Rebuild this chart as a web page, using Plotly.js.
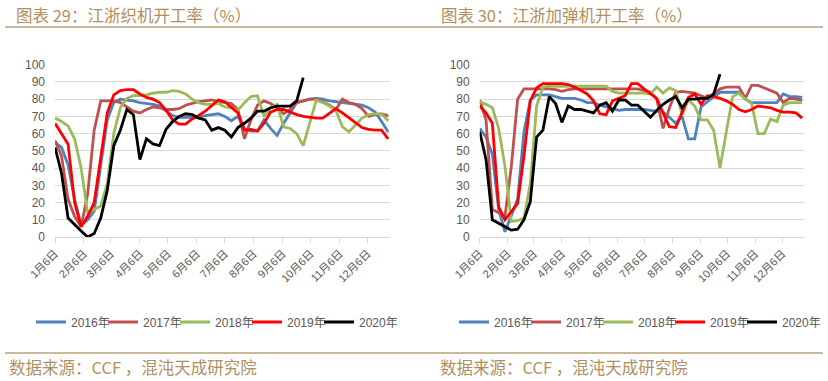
<!DOCTYPE html>
<html>
<head>
<meta charset="utf-8">
<script src="https://cdn.plot.ly/plotly-3.0.1.min.js"></script>
<style>
  html, body { margin: 0; padding: 0; background: #ffffff; }
  #chart { width: 828px; height: 381px; }
</style>
</head>
<body>
<div id="chart"></div>
<script>
// ---- categories (weekly dates mapped onto one year) ----
var weeks = [
  '2020-01-06','2020-01-13','2020-01-20','2020-01-27',
  '2020-02-03','2020-02-10','2020-02-17','2020-02-24',
  '2020-03-02','2020-03-09','2020-03-16','2020-03-23','2020-03-30',
  '2020-04-06','2020-04-13','2020-04-20','2020-04-27',
  '2020-05-04','2020-05-11','2020-05-18','2020-05-25',
  '2020-06-01','2020-06-08','2020-06-15','2020-06-22','2020-06-29',
  '2020-07-06','2020-07-13','2020-07-20','2020-07-27',
  '2020-08-03','2020-08-10','2020-08-17','2020-08-24','2020-08-31',
  '2020-09-07','2020-09-14','2020-09-21','2020-09-28',
  '2020-10-05','2020-10-12','2020-10-19','2020-10-26',
  '2020-11-02','2020-11-09','2020-11-16','2020-11-23','2020-11-30',
  '2020-12-07','2020-12-14','2020-12-21','2020-12-28'
];
var tickDates = ['2020-01-06','2020-02-06','2020-03-06','2020-04-06','2020-05-06','2020-06-06',
                 '2020-07-06','2020-08-06','2020-09-06','2020-10-06','2020-11-06','2020-12-06'];
var tickText = ['1月6日','2月6日','3月6日','4月6日','5月6日','6月6日',
                '7月6日','8月6日','9月6日','10月6日','11月6日','12月6日'];
var seriesNames = ['2016年','2017年','2018年','2019年','2020年'];

// ---- 江浙织机开工率 ----
var loom2016 = [55,52,42,22,7, 10,15,42,68,78, 80,79.5,79,78,77.5, 77,76,73,70.5,69.5,
  69.5,69.5,69.5,70.5,71, 71.5,70,67.5,70,63, 61.5,61.5,68,63,59, 66,72,78,79,80,
  80.5,80,79,78.5,78, 77.5,77,76.5,75,72.5, 67,61];
var loom2017 = [56,47,22,12,6, 25,62,79,79,79, 78,75.5,73,72,74, 75.5,75,74,74,74.5,
  76.5,77.5,78.5,79,79.5, 78.5,78,77.5,74,57, 68,76.5,79,77.5,75, 71.5,74,78,79,80,
  80,78.5,76.5,74,80, 78,77,74.5,70,71, 71.5,70.5];
var loom2018 = [69,67,64.5,57,40, 14,16,18,31,60, 75,80.5,82,82,82.5, 83.5,84,84,85,84.5,
  83,80,78,77,77, 77.5,75.5,75,73.5,78, 81.5,82,70,75,77, 64,63,60,53,66,
  79.5,78,76,73.5,64, 61,65,69,71,71.5, 71.5,67.5];
var loom2019 = [66,60,54,20,6, 12,20,46,72,82.5, 85,85.5,85.5,83,81, 80,78,73.5,68,65.5,
  65.5,68.5,70.5,73,76.5, 79.5,78.5,75,72,62, 62.5,61.5,66,72.5,74, 74,72.5,71,70,69.5,
  69,69,72,74.5,72, 69,66,63.5,62.5,62, 62,57];
var loom2020 = [52,37,11,7,3.5, 0,2,11,27,53, 62,74,71,45,57, 54,53,62.5,67,70,
  71.5,71,69,68,62, 63.5,62,58,63.5,66, 69,73,73,75,76, 76,76,79,92.5];

// ---- 江浙加弹机开工率 ----
var tex2016 = [63,58,48,16,3, 12,22,61,79.5,82.5, 82.5,82.5,81.5,80.5,80.5, 80.5,79.5,78,78,76.5,
  75.5,74.5,73.5,74,74, 74,74,73.5,73,72.5, 69.5,66,70,57,57, 75.5,78.5,81.5,84,84,
  84,84,80,78,78, 78,78,78,83,81.5, 81.5,81];
var tex2017 = [79.5,68,16,14,12, 41,80,86,86,86, 86,86,85.5,84.5,85.5, 86,86,86,86,86,
  86,86,86,86,86, 86,85,84,80,63, 75,84,84.5,84,83.5, 82,80.5,83,86,87,
  87,87,80.5,88,88, 86.5,85,83.5,78,80.5, 80,79.5];
var tex2018 = [78.5,77,75,63,41, 9,9.5,11,31,76, 87,87.5,87.5,87.5,87.5, 87.5,87.5,87.5,87.5,87.5,
  87.5,84.5,83.5,83.5,83.5, 83.5,83.5,83,87,83.5, 86.5,85,71,79.5,76, 68,68,62,40,61,
  81.5,83.5,80,77.5,60, 60,68.5,67,76.5,78, 78,78];
var tex2019 = [76,72,66,17.5,10, 15,19.5,47,79,86.5, 89,89,89,89,88.5, 87,85,83,79,71.5,
  71,79,80.5,82,89, 89,86,83.5,80.5,72, 64,63.5,72,81,83, 77,82,81.5,80.5,79,
  77,74,72.7,74,76, 75.5,75,73.5,72.5,72.5, 72,69];
var tex2020 = [61,45,10,8,6, 4,4.5,10,20.5,58, 62,81.5,77.5,66.5,76, 74,74,73,72,76.5,
  78,73,79.5,79.5,76.5, 76.5,73,69.5,73.5,77, 79.5,81.5,75,80,80, 80.5,80.5,83,94.5];

var colors = ['#4f81bd','#c0504d','#9bbb59','#ff0000','#000000'];

// ---- layout helpers ----
var W = 828, H = 381;
function px(x){ return x / W; }
function py(y){ return 1 - y / H; }

var leftSets = [loom2016, loom2017, loom2018, loom2019, loom2020];
var rightSets = [tex2016, tex2017, tex2018, tex2019, tex2020];
var traces = [];
function addTraces(sets, xa, ya, lg){
  sets.forEach(function(vals, k){
    var t = {x: weeks, y: vals, type: 'scatter', mode: 'lines', name: seriesNames[k],
      line: {color: colors[k], width: 2.8}, xaxis: xa, yaxis: ya, legend: lg};
    if (k === sets.length - 1) t.legendwidth = 38;   // last entry: full text width
    traces.push(t);
  });
}
addTraces(leftSets, 'x', 'y', 'legend');
addTraces(rightSets, 'x2', 'y2', 'legend2');

var tickFont = {family: 'Liberation Sans, Noto Sans CJK SC, sans-serif', size: 12, color: '#595959'};
var xRange = ['2020-01-06', '2020-12-30'];
function xAxis(d0, d1, anchor){
  return {domain: [px(d0), px(d1)], anchor: anchor, type: 'date', range: xRange,
    tickmode: 'array', tickvals: tickDates, ticktext: tickText, tickangle: -45,
    tickfont: {family: 'Liberation Sans, Noto Sans CJK SC, sans-serif', size: 11, color: '#595959'},
    showgrid: false, zeroline: false, showline: true, linecolor: '#d9d9d9', linewidth: 1,
    ticks: 'outside', ticklen: 5, tickcolor: '#d9d9d9', tickwidth: 1, fixedrange: true};
}
function yAxis(anchor){
  return {domain: [py(237), py(64.7)], anchor: anchor, range: [0, 100], dtick: 10,
    tickfont: tickFont, showgrid: true, gridcolor: '#d9d9d9', gridwidth: 1,
    zeroline: false, showline: false, ticks: '', ticklabelstandoff: 9, fixedrange: true};
}

var gold = '#b09060';
var titleFont = {family: 'Noto Sans CJK SC, sans-serif', size: 16.5, color: gold};
var srcFont = {family: 'Noto Sans CJK SC, sans-serif', size: 16.5, color: gold};
function legendCfg(xpx){
  return {orientation: 'h', x: px(xpx), xanchor: 'left', y: py(322), yanchor: 'middle',
    font: {family: 'Liberation Sans, Noto Sans CJK SC, sans-serif', size: 12, color: '#595959'},
    bgcolor: 'rgba(0,0,0,0)', entrywidth: 27, entrywidthmode: 'pixels', itemwidth: 30,
    tracegroupgap: 0, itemclick: false, itemdoubleclick: false};
}

var layout = {
  width: W, height: H,
  margin: {l: 0, r: 0, t: 0, b: 0, autoexpand: false},
  paper_bgcolor: '#ffffff', plot_bgcolor: '#ffffff',
  showlegend: true,
  xaxis: xAxis(55, 390, 'y'),
  yaxis: yAxis('x'),
  xaxis2: xAxis(479.7, 804, 'y2'),
  yaxis2: yAxis('x2'),
  legend: legendCfg(31),
  legend2: legendCfg(454),
  annotations: [
    {text: '图表 29：江浙织机开工率（%）', xref: 'paper', yref: 'paper', x: px(14), y: py(15),
     xanchor: 'left', yanchor: 'middle', showarrow: false, font: titleFont},
    {text: '图表 30：江浙加弹机开工率（%）', xref: 'paper', yref: 'paper', x: px(439), y: py(15),
     xanchor: 'left', yanchor: 'middle', showarrow: false, font: titleFont},
    {text: '数据来源：CCF ，混沌天成研究院', xref: 'paper', yref: 'paper', x: px(7), y: py(367),
     xanchor: 'left', yanchor: 'middle', showarrow: false, font: srcFont},
    {text: '数据来源：CCF ，混沌天成研究院', xref: 'paper', yref: 'paper', x: px(438), y: py(367),
     xanchor: 'left', yanchor: 'middle', showarrow: false, font: srcFont}
  ],
  shapes: [
    {type: 'line', xref: 'paper', yref: 'paper', x0: px(5), x1: px(823), y0: py(27), y1: py(27),
     line: {color: '#b8a27a', width: 1.5}},
    {type: 'line', xref: 'paper', yref: 'paper', x0: px(5), x1: px(823), y0: py(353), y1: py(353),
     line: {color: '#b8a27a', width: 1.5}}
  ]
};

Plotly.newPlot('chart', traces, layout, {displayModeBar: false, staticPlot: true});
</script>
</body>
</html>
